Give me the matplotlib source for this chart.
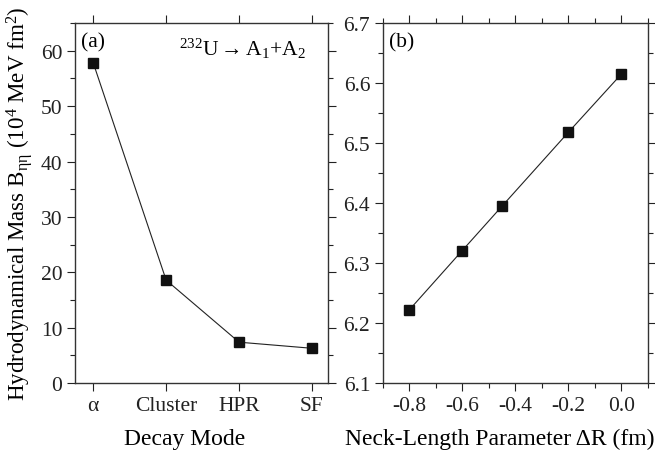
import matplotlib
matplotlib.use("Agg")
import matplotlib.pyplot as plt
from matplotlib.ticker import MultipleLocator

plt.rcParams['font.family'] = ['Liberation Serif', 'DejaVu Serif']
plt.rcParams['mathtext.fontset'] = 'custom'
plt.rcParams['mathtext.rm'] = 'Liberation Serif'
plt.rcParams['mathtext.it'] = 'Liberation Serif:italic'
plt.rcParams['mathtext.bf'] = 'Liberation Serif:bold'

# Panel (a)
modes = ['α', 'Cluster', 'HPR', 'SF']
mass_a = [57.8, 18.6, 7.4, 6.3]

# Panel (b)
delta_r = [-0.8, -0.6, -0.45, -0.2, 0.0]
mass_b = [6.222, 6.321, 6.395, 6.518, 6.615]

fig = plt.figure(figsize=(6.55, 4.52), dpi=100)
axa = fig.add_axes([0.1145, 0.150, 0.3863, 0.797])
axb = fig.add_axes([0.5843, 0.150, 0.4050, 0.797])

for ax in (axa, axb):
    ax.tick_params(which='both', direction='out', top=True, right=True,
                   labelsize=15.5, width=0.8, colors='#222222', pad=3)
    ax.tick_params(which='major', length=6)
    ax.tick_params(which='minor', length=3.5)
    for s in ax.spines.values():
        s.set_linewidth(1.0)
        s.set_color('#333333')

x = list(range(len(modes)))
axa.plot(x, mass_a, '-', color='#222222', lw=0.8, marker='s', ms=7,
         mfc='#111111', mec='#111111')
axa.set_xlim(-0.25, 3.22)
axa.set_ylim(0, 65)
axa.set_xticks(x)
axa.set_xticklabels(modes)
axa.yaxis.set_major_locator(MultipleLocator(10))
axa.yaxis.set_minor_locator(MultipleLocator(5))
axa.set_xlabel('Decay Mode', fontsize=17)
axa.xaxis.set_label_coords(0.435, -0.125)
axa.set_ylabel(r'Hydrodynamical Mass B$_{\mathrm{ηη}}$ (10$^4$ MeV fm$^2$)', fontsize=16.6)
axa.yaxis.set_label_coords(-0.16, 0.5)
axa.text(0.025, 0.975, '(a)', transform=axa.transAxes, fontsize=15.5, va='top', ha='left')
axa.text(0.41, 0.965, r'$^{232}$U$\rightarrow$A$_1$+A$_2$', transform=axa.transAxes,
         fontsize=15.5, va='top', ha='left')

axb.plot(delta_r, mass_b, '-', color='#222222', lw=0.8, marker='s', ms=7,
         mfc='#111111', mec='#111111')
axb.set_xlim(-0.9, 0.1)
axb.set_ylim(6.1, 6.7)
axb.xaxis.set_major_locator(MultipleLocator(0.2))
axb.xaxis.set_minor_locator(MultipleLocator(0.1))
axb.yaxis.set_major_locator(MultipleLocator(0.1))
axb.yaxis.set_minor_locator(MultipleLocator(0.05))
axb.xaxis.set_major_formatter(plt.FuncFormatter(lambda v, p: f'{v:.1f}'.replace('-0.0', '0.0')))
axb.yaxis.set_major_formatter(plt.FuncFormatter(lambda v, p: f'{v:.1f}'))
axb.set_xlabel('Neck-Length Parameter ΔR (fm)', fontsize=17)
axb.xaxis.set_label_coords(0.44, -0.125)
axb.text(0.025, 0.975, '(b)', transform=axb.transAxes, fontsize=15.5, va='top', ha='left')

fig.savefig('out.png', dpi=100)
